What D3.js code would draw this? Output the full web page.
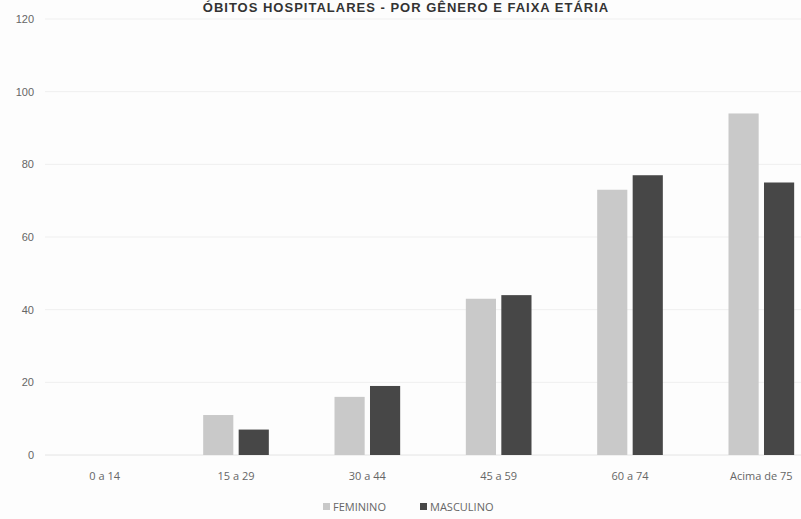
<!DOCTYPE html>
<html><head><meta charset="utf-8">
<script src="https://cdn.jsdelivr.net/npm/d3@7"></script>
<style>body{margin:0;background:#fdfdfd}svg{display:block}</style>
</head><body>
<svg id="c" width="801" height="519"></svg>
<script>
const title = "ÓBITOS HOSPITALARES - POR GÊNERO E FAIXA ETÁRIA";
const categories = ["0 a 14","15 a 29","30 a 44","45 a 59","60 a 74","Acima de 75"];
const seriesNames = ["FEMININO","MASCULINO"];
const feminino = [0, 11, 16, 43, 73, 94];
const masculino = [0, 7, 19, 44, 77, 75];
const yTicks = [0,20,40,60,80,100,120];
const colors = ["#c9c9c9","#474747"];

const svg = d3.select("#c");
const y = d3.scaleLinear().domain([0,120]).range([455,19]);
const x0 = d3.scaleBand().domain(categories).range([39,827]).paddingInner(0.5).paddingOuter(0.25);
const x1 = d3.scaleBand().domain(seriesNames).range([0,x0.bandwidth()]).paddingInner(0.15);
const color = d3.scaleOrdinal().domain(seriesNames).range(colors);

// gridlines
svg.append("g").selectAll("line").data(yTicks).join("line")
  .attr("x1",45).attr("x2",801)
  .attr("y1",d=>y(d)).attr("y2",d=>y(d))
  .attr("stroke",d=>d===0?"#e4e4e4":"#efefef").attr("stroke-width",1);

// y axis labels
const yAxis = d3.axisLeft(y).tickValues(yTicks).tickSize(0).tickPadding(0);
const gy = svg.append("g").attr("transform","translate(34,0)").call(yAxis);
gy.select(".domain").remove();
gy.selectAll("text").attr("font-family","Liberation Sans, Arial, sans-serif").attr("font-size",11).attr("fill","#666");

// bars
const rows = categories.map((c,i)=>({cat:c, vals:[{s:seriesNames[0],v:feminino[i]},{s:seriesNames[1],v:masculino[i]}]}));
svg.append("g").selectAll("g").data(rows).join("g")
  .attr("transform",d=>`translate(${x0(d.cat)},0)`)
  .selectAll("rect").data(d=>d.vals).join("rect")
  .attr("x",d=>x1(d.s)).attr("width",x1.bandwidth())
  .attr("y",d=>y(d.v)).attr("height",d=>y(0)-y(d.v))
  .attr("fill",d=>color(d.s));

// x axis labels
const xAxis = d3.axisBottom(x0).tickSize(0).tickPadding(0);
const gx = svg.append("g").attr("transform",`translate(0,${y(0)+25})`).call(xAxis);
gx.select(".domain").remove();
gx.selectAll("text").attr("font-family","Open Sans, Arial, sans-serif").attr("font-size",11).attr("fill","#666").attr("dy","0");

// title
svg.append("text").attr("x",406).attr("y",12).attr("text-anchor","middle")
  .attr("font-family","Liberation Sans, Arial, sans-serif").attr("font-weight","bold")
  .attr("font-size",13).attr("letter-spacing",1).attr("fill","#333").text(title);

// legend
const legend = svg.append("g");
const lx = [323, 420];
seriesNames.forEach((s,i)=>{
  legend.append("rect").attr("x",lx[i]).attr("y",503).attr("width",7).attr("height",7).attr("fill",color(s));
  legend.append("text").attr("x",lx[i]+10).attr("y",511)
    .attr("font-family","Open Sans, Arial, sans-serif").attr("font-size",11).attr("fill","#666").text(s);
});
</script>
</body></html>
